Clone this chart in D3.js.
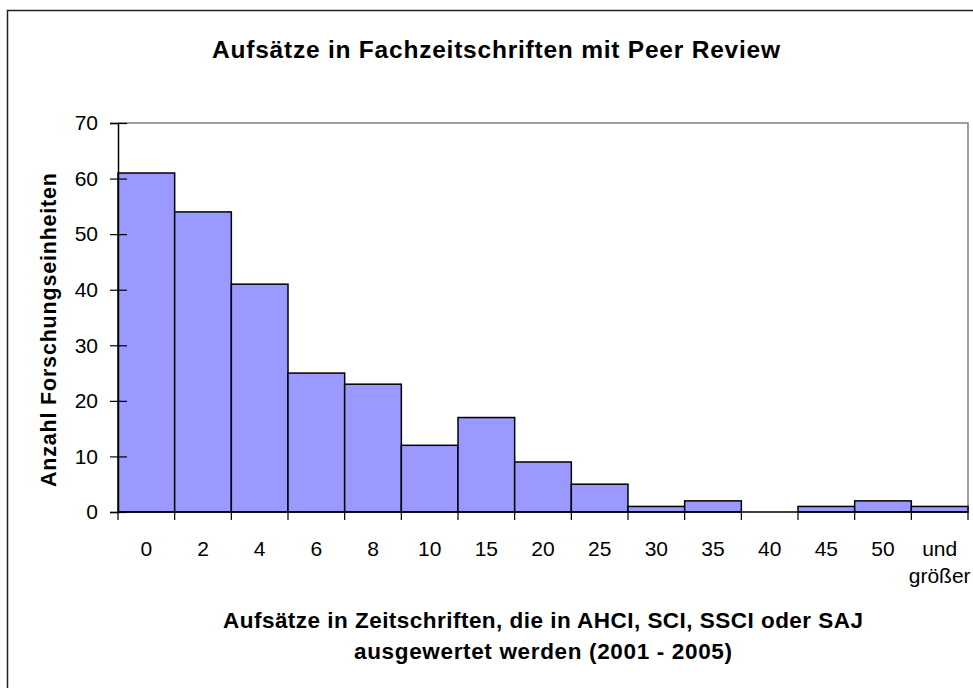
<!DOCTYPE html>
<html lang="de">
<head>
<meta charset="UTF-8">
<script src="https://d3js.org/d3.v7.min.js"></script>
<style>
  html, body { margin: 0; padding: 0; background: #fff; }
  svg { display: block; font-family: "Liberation Sans", Arial, sans-serif; }
</style>
</head>
<body>
<svg id="chart" width="973" height="688"></svg>
<script>
// Werte aus dem Histogramm
const categories = ["0", "2", "4", "6", "8", "10", "15", "20", "25", "30", "35", "40", "45", "50", "und größer"];
const values = [61, 54, 41, 25, 23, 12, 17, 9, 5, 1, 2, 0, 1, 2, 1];
const yTicks = [0, 10, 20, 30, 40, 50, 60, 70];

const title = "Aufsätze in Fachzeitschriften mit Peer Review";
const yTitle = "Anzahl Forschungseinheiten";
const xTitle = ["Aufsätze in Zeitschriften, die in AHCI, SCI, SSCI oder SAJ", "ausgewertet werden (2001 - 2005)"];

const width = 973, height = 688;
const plot = { left: 118, right: 968, top: 123, bottom: 512 };

const svg = d3.select("#chart");

// Rahmen um das Diagramm (rechts/unten abgeschnitten)
svg.append("rect")
  .attr("x", 7.5).attr("y", 10.5)
  .attr("width", 1000).attr("height", 700)
  .attr("fill", "none")
  .attr("stroke", "#222")
  .attr("stroke-width", 1.5);

const x = d3.scaleBand()
  .domain(categories)
  .range([plot.left, plot.right])
  .padding(0);

const y = d3.scaleLinear()
  .domain([0, 70])
  .range([plot.bottom, plot.top]);

// Zeichenfläche: grauer Rand oben und rechts
svg.append("path")
  .attr("d", `M${plot.left},${plot.top}H${plot.right}V${plot.bottom}`)
  .attr("fill", "none")
  .attr("stroke", "#808080")
  .attr("stroke-width", 1.5);

// Balken
svg.append("g")
  .selectAll("rect")
  .data(values)
  .enter()
  .append("rect")
  .attr("x", (d, i) => x(categories[i]))
  .attr("y", d => y(d))
  .attr("width", x.bandwidth())
  .attr("height", d => plot.bottom - y(d))
  .attr("fill", "#9999ff")
  .attr("stroke", "#000")
  .attr("stroke-width", 1.5);

// y-Achse
const yAxis = svg.append("g")
  .attr("transform", `translate(${plot.left},0)`)
  .call(d3.axisLeft(y).tickValues(yTicks).tickSize(8).tickPadding(12));
yAxis.select(".domain").attr("stroke", "#000").attr("stroke-width", 1.5);
yAxis.selectAll(".tick line").attr("x2", 9).attr("x1", -8).attr("stroke-width", 1.2);
yAxis.selectAll(".tick text")
  .attr("font-size", 21)
  .attr("font-family", "Liberation Sans, Arial, sans-serif")
  .attr("fill", "#000");

// x-Achse: Striche an den Klassengrenzen
const xAxisG = svg.append("g");
xAxisG.append("line")
  .attr("x1", plot.left).attr("x2", plot.right)
  .attr("y1", plot.bottom).attr("y2", plot.bottom)
  .attr("stroke", "#000").attr("stroke-width", 1.5);

const edges = categories.map(c => x(c)).concat([x(categories[categories.length - 1]) + x.bandwidth()]);
xAxisG.selectAll("line.tick")
  .data(edges)
  .enter()
  .append("line")
  .attr("class", "tick")
  .attr("x1", d => d).attr("x2", d => d)
  .attr("y1", plot.bottom).attr("y2", plot.bottom + 8)
  .attr("stroke", "#000").attr("stroke-width", 1.2);

xAxisG.selectAll("text.label")
  .data(categories)
  .enter()
  .append("text")
  .attr("class", "label")
  .attr("x", d => x(d) + x.bandwidth() / 2)
  .attr("y", 556)
  .attr("text-anchor", "middle")
  .attr("font-size", 21)
  .each(function (d) {
    const parts = d.split(" ");
    const t = d3.select(this);
    parts.forEach((p, i) => {
      t.append("tspan")
        .attr("x", x(d) + x.bandwidth() / 2)
        .attr("dy", i === 0 ? 0 : 27)
        .text(p);
    });
  });

// Titel
svg.append("text")
  .attr("x", 496).attr("y", 58)
  .attr("text-anchor", "middle")
  .attr("font-size", 24.5)
  .attr("font-weight", "bold")
  .attr("textLength", 568)
  .attr("lengthAdjust", "spacing")
  .text(title);

// y-Achsentitel
svg.append("text")
  .attr("transform", `translate(56,330) rotate(-90)`)
  .attr("text-anchor", "middle")
  .attr("font-size", 21.5)
  .attr("font-weight", "bold")
  .attr("textLength", 314)
  .attr("lengthAdjust", "spacing")
  .text(yTitle);

// x-Achsentitel
const xTitleLen = [640, 378];
xTitle.forEach((line, i) => {
  svg.append("text")
    .attr("x", (plot.left + plot.right) / 2)
    .attr("y", 628 + i * 31)
    .attr("text-anchor", "middle")
    .attr("font-size", 22.5)
    .attr("font-weight", "bold")
    .attr("textLength", xTitleLen[i])
    .attr("lengthAdjust", "spacing")
    .text(line);
});
</script>
</body>
</html>
